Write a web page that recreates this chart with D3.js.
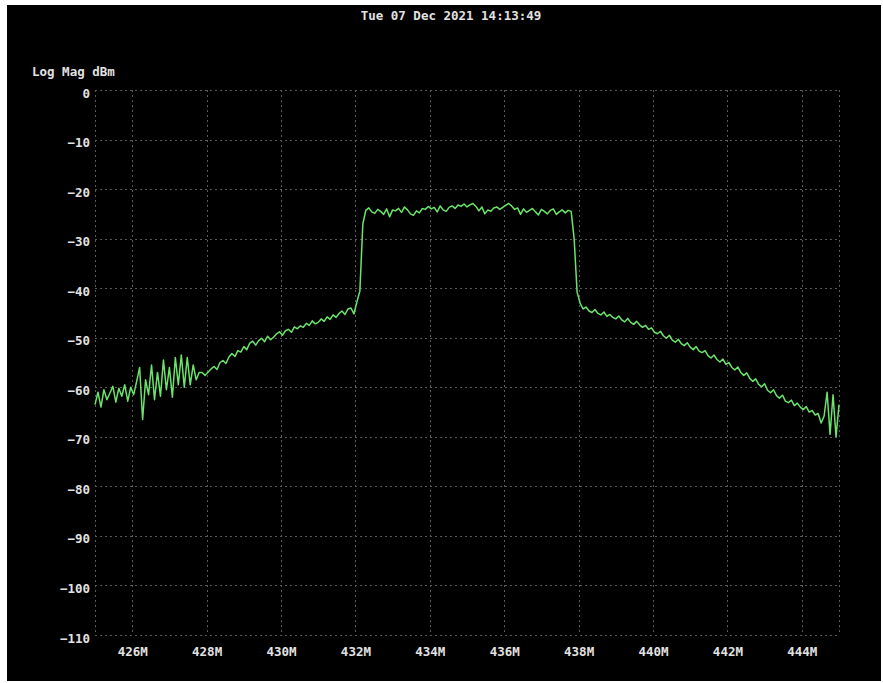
<!DOCTYPE html>
<html>
<head>
<meta charset="utf-8">
<script src="https://cdn.jsdelivr.net/npm/d3@7"></script>
<style>
  html, body { margin: 0; padding: 0; background: #ffffff; }
  svg { display: block; }
</style>
</head>
<body>
<svg id="chart" width="883" height="683"></svg>
<script>
// ---- data ----
const titleText = "Tue 07 Dec 2021 14:13:49";
const yAxisTitle = "Log Mag dBm";
const freqStartMHz = 425;      // sweep start
const freqStepMHz = 0.08;      // sweep point spacing
const levelsDbm = [
  // 425.00 - 427.80 MHz (noisy floor)
  -63.5, -61.0, -64.0, -60.5, -62.5, -61.2, -59.8, -63.0, -60.2, -61.8,
  -59.5, -62.8, -60.0, -61.5, -58.8, -56.0, -66.5, -58.5, -61.5, -55.5,
  -62.5, -57.0, -61.8, -54.5, -60.5, -56.0, -62.0, -54.0, -59.5, -53.5,
  -60.0, -54.0, -59.5, -55.5, -58.5, -57.0,
  // 427.88 - 432.04 MHz (lower skirt)
  -57.0, -57.6, -56.9, -56.3, -55.8, -56.4, -55.0, -54.6, -55.2, -53.9,
  -53.2, -53.8, -52.6, -52.9, -51.8, -52.4, -51.1, -50.7, -51.5, -50.6,
  -50.1, -50.8, -49.7, -50.4, -49.9, -49.2, -48.8, -49.5, -48.6, -48.3,
  -48.9, -47.8, -48.2, -47.6, -47.9, -47.1, -47.5, -46.6, -47.2, -46.9,
  -46.2, -46.7, -45.8, -46.3, -45.4, -45.9, -45.1, -44.6, -45.3, -44.2,
  -44.0, -45.2, -42.8,
  // rising edge
  -40.6, -27.0,
  // 432.28 - 437.80 MHz (channel)
  -24.3, -23.8, -24.6, -24.9, -24.1, -24.5, -25.1, -24.0, -25.6, -24.2,
  -24.4, -23.9, -24.7, -23.6, -24.2, -25.0, -25.3, -24.4, -24.8, -23.9,
  -24.1, -23.5, -24.0, -23.7, -24.6, -23.4, -24.2, -24.5, -23.7, -23.4,
  -23.9, -23.2, -23.5, -23.0, -23.6, -23.2, -22.9, -23.5, -24.4, -23.6,
  -25.0, -24.2, -24.5, -23.8, -23.6, -24.1, -23.7, -23.3, -22.9, -23.4,
  -24.1, -23.8, -25.1, -24.0, -24.7, -24.3, -23.9, -24.6, -25.2, -24.1,
  -24.5, -25.0, -24.3, -24.0, -25.1, -24.6, -24.2, -24.8, -24.3, -24.5,
  // falling edge
  -30.0, -40.8, -43.0,
  // 438.12 - 445.00 MHz (upper skirt)
  -44.2, -43.8, -44.6, -44.9, -44.3, -45.1, -45.4, -44.8, -45.7, -45.3,
  -45.9, -46.2, -45.6, -46.4, -46.8, -46.1, -46.9, -47.3, -46.7, -47.4,
  -47.9, -47.5, -48.3, -48.0, -48.9, -49.2, -48.7, -49.6, -50.1, -49.5,
  -50.5, -50.9, -50.3, -51.2, -51.6, -51.0, -51.9, -52.4, -51.8, -52.7,
  -53.0, -52.6, -53.6, -54.1, -53.5, -54.4, -54.9, -54.3, -55.4, -55.0,
  -56.0, -56.5, -55.9, -57.0, -57.6, -57.1, -58.2, -58.8, -58.3, -59.4,
  -59.9, -59.3, -60.6, -61.1, -60.5, -61.7, -62.2, -61.6, -62.8, -63.1,
  -62.6, -63.7, -63.2, -64.0, -64.5, -63.9, -65.0, -64.7, -65.6, -65.3,
  -67.2, -65.8, -61.0, -69.5, -61.5, -70.0, -63.5
];
const xDomainMHz = [425, 445];
const yDomainDbm = [-110, 0];
const xTickValues = [426, 428, 430, 432, 434, 436, 438, 440, 442, 444];
const xTickLabels = ["426M", "428M", "430M", "432M", "434M", "436M", "438M", "440M", "442M", "444M"];
const yTickValues = [0, -10, -20, -30, -40, -50, -60, -70, -80, -90, -100, -110];

// ---- layout ----
const svg = d3.select("#chart");
const plot = { left: 95, right: 839, top: 90, bottom: 635 };
const font = "'DejaVu Sans Mono', monospace";
const textColor = "#e2e2e2";
const gridColor = "#5a5a5a";

svg.append("rect").attr("x", 7).attr("y", 5).attr("width", 874).attr("height", 676).attr("fill", "#000");

const x = d3.scaleLinear().domain(xDomainMHz).range([plot.left, plot.right]);
const y = d3.scaleLinear().domain(yDomainDbm).range([plot.bottom, plot.top]);

// grid
const grid = svg.append("g").attr("stroke", gridColor).attr("stroke-width", 1).attr("stroke-dasharray", "2,3").attr("shape-rendering", "crispEdges");
const vLines = [xDomainMHz[0]].concat(xTickValues, [xDomainMHz[1]]);
grid.selectAll("line.v").data(vLines).enter().append("line")
  .attr("x1", d => Math.round(x(d)) + 0.5).attr("x2", d => Math.round(x(d)) + 0.5)
  .attr("y1", plot.top).attr("y2", plot.bottom);
grid.selectAll("line.h").data(yTickValues).enter().append("line")
  .attr("y1", d => Math.round(y(d)) + 0.5).attr("y2", d => Math.round(y(d)) + 0.5)
  .attr("x1", plot.left).attr("x2", plot.right);

// axes (labels only)
const xAxis = d3.axisBottom(x).tickValues(xTickValues).tickFormat((d, i) => xTickLabels[i]).tickSize(0).tickPadding(0);
const gx = svg.append("g").attr("transform", `translate(0,${plot.bottom})`).call(xAxis);
gx.select(".domain").remove();
gx.selectAll("text").attr("fill", textColor).attr("font-family", font).attr("font-weight", "bold")
  .attr("font-size", "12.5px").attr("dy", null).attr("y", 21);

const yAxis = d3.axisLeft(y).tickValues(yTickValues).tickFormat(d3.format("d")).tickSize(0).tickPadding(0);
const gy = svg.append("g").attr("transform", `translate(${plot.left - 5},0)`).call(yAxis);
gy.select(".domain").remove();
gy.selectAll("text").attr("fill", textColor).attr("font-family", font).attr("font-weight", "bold")
  .attr("font-size", "12.5px").attr("dy", null).attr("y", 7).attr("x", 0);

// titles
svg.append("text").attr("x", 451).attr("y", 20).attr("text-anchor", "middle")
  .attr("fill", textColor).attr("font-family", font).attr("font-weight", "bold").attr("font-size", "12.5px")
  .text(titleText);
svg.append("text").attr("x", 32).attr("y", 76).attr("text-anchor", "start")
  .attr("fill", textColor).attr("font-family", font).attr("font-weight", "bold").attr("font-size", "12.5px")
  .text(yAxisTitle);

// trace
const points = levelsDbm.map((v, i) => ({ f: freqStartMHz + i * freqStepMHz, v }));
const line = d3.line().x(d => x(d.f)).y(d => y(d.v));
svg.append("path").datum(points).attr("d", line)
  .attr("fill", "none").attr("stroke", "#6ae46a").attr("stroke-width", 1.5).attr("stroke-linejoin", "round");
</script>
</body>
</html>
